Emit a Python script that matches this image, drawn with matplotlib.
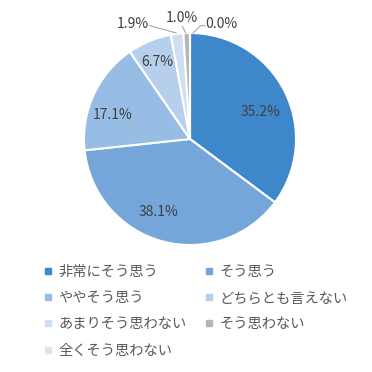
import numpy as np
import matplotlib
matplotlib.use("Agg")
import matplotlib.pyplot as plt
from matplotlib.lines import Line2D

plt.rcParams['font.family'] = ['Noto Sans CJK JP', 'DejaVu Sans']

labels = ['非常にそう思う', 'そう思う', 'ややそう思う', 'どちらとも言えない',
          'あまりそう思わない', 'そう思わない', '全くそう思わない']
values = [35.2, 38.1, 17.1, 6.7, 1.9, 1.0, 0.0]
colors = ['#3f87cb', '#74a6da', '#97bde4', '#b6cfec', '#cfdff2', '#b5b5b5', '#e4e4e4']

fig = plt.figure(figsize=(3.72, 3.72), dpi=100)
ax = fig.add_axes([0, 0, 1, 1])
ax.set_aspect('equal')
ax.axis('off')

wedges, _ = ax.pie(values, colors=colors, startangle=90, counterclock=False,
                   wedgeprops=dict(edgecolor='white', linewidth=1.5))

# data limits so radius 1 = ~106 px, centre at (190, 139)
ax.set_xlim(-190 / 106, 182 / 106)
ax.set_ylim(-233 / 106, 139 / 106)

txt = '#404040'
# (radius, angle shift in degrees) for labels inside the pie
inside = {0: (0.71, -5.6), 1: (0.75, -8.4), 2: (0.76, 7.4), 3: (0.79, 0.7)}
for i, w in enumerate(wedges):
    if i not in inside:
        continue
    r, shift = inside[i]
    mid = np.deg2rad((w.theta1 + w.theta2) / 2 + shift)
    ax.text(r * np.cos(mid), r * np.sin(mid), f'{values[i]:.1f}%',
            ha='center', va='center', fontsize=10, color=txt)

# outside labels with leader lines
out = {4: (-0.54, 1.085), 5: (-0.08, 1.14), 6: (0.30, 1.085)}
for i, (tx, ty) in out.items():
    ax.text(tx, ty, f'{values[i]:.1f}%', ha='center', va='center',
            fontsize=10, color=txt)
ax.plot([-0.38, -0.13], [1.07, 1.0], color='#a6a6a6', lw=0.8)
ax.plot([-0.07, -0.04], [1.06, 1.0], color='#a6a6a6', lw=0.8)
ax.plot([0.03, 0.10, 0.14], [1.0, 1.07, 1.07], color='#a6a6a6', lw=0.8)

handles = [Line2D([], [], marker='s', linestyle='none', markersize=4.5,
                  markerfacecolor=c, markeredgecolor=c) for c in colors]
# order so that legend fills row by row in two columns
order = [0, 2, 4, 6, 1, 3, 5]
fig.legend([handles[i] for i in order], [labels[i] for i in order],
           loc='upper left', bbox_to_anchor=(0.083, 0.322), ncol=2,
           frameon=False, fontsize=10.3, handlelength=0.6, handletextpad=0.4,
           columnspacing=1.3, labelspacing=0.85, labelcolor='#595959')

fig.savefig('out.png', dpi=100)
